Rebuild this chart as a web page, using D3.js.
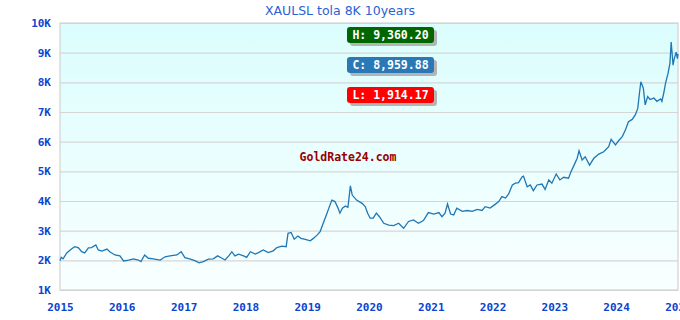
<!DOCTYPE html>
<html>
<head>
<meta charset="utf-8">
<script src="https://cdn.jsdelivr.net/npm/d3@7"></script>
<style>
	body { margin: 0; background: #fff; }
	svg { display: block; }
</style>
</head>
<body>
<div id="chart"></div>
<script>
// decimal years, with the matching tola price
var years = [
	2015.00, 2015.02, 2015.05, 2015.11, 2015.19, 2015.24, 2015.30, 2015.35, 2015.40, 2015.46,
	2015.51, 2015.58, 2015.62, 2015.68, 2015.76, 2015.81, 2015.89, 2015.97, 2016.03, 2016.11,
	2016.19, 2016.27, 2016.31, 2016.37, 2016.43, 2016.51, 2016.62, 2016.70, 2016.78, 2016.89,
	2016.96, 2017.02, 2017.11, 2017.19, 2017.25, 2017.32, 2017.40, 2017.48, 2017.55, 2017.62,
	2017.67, 2017.73, 2017.78, 2017.83, 2017.89, 2017.97, 2018.02, 2018.08, 2018.16, 2018.21,
	2018.29, 2018.37, 2018.45, 2018.51, 2018.59, 2018.66, 2018.69, 2018.74, 2018.79, 2018.85,
	2018.90, 2018.97, 2019.05, 2019.10, 2019.16, 2019.21, 2019.26, 2019.32, 2019.36, 2019.40,
	2019.45, 2019.50, 2019.53, 2019.57, 2019.62, 2019.66, 2019.70, 2019.73, 2019.80, 2019.89,
	2019.94, 2019.98, 2020.02, 2020.07, 2020.12, 2020.17, 2020.24, 2020.32, 2020.40, 2020.48,
	2020.56, 2020.64, 2020.72, 2020.80, 2020.88, 2020.96, 2021.05, 2021.13, 2021.18, 2021.23,
	2021.27, 2021.32, 2021.37, 2021.42, 2021.51, 2021.59, 2021.67, 2021.75, 2021.83, 2021.88,
	2021.96, 2022.03, 2022.10, 2022.15, 2022.21, 2022.26, 2022.32, 2022.37, 2022.42, 2022.48,
	2022.50, 2022.56, 2022.61, 2022.66, 2022.72, 2022.80, 2022.85, 2022.91, 2022.96, 2023.03,
	2023.09, 2023.15, 2023.23, 2023.27, 2023.32, 2023.37, 2023.40, 2023.45, 2023.50, 2023.57,
	2023.64, 2023.72, 2023.80, 2023.88, 2023.92, 2023.99, 2024.04, 2024.10, 2024.15, 2024.20,
	2024.26, 2024.31, 2024.35, 2024.38, 2024.40, 2024.44, 2024.47, 2024.51, 2024.55, 2024.61,
	2024.66, 2024.72, 2024.74, 2024.77, 2024.80, 2024.84, 2024.87, 2024.89, 2024.92, 2024.94,
	2024.97, 2024.99, 2025.00
];
var prices = [
	1990, 2100, 2050, 2250, 2390, 2460, 2420, 2290, 2250, 2420,
	2430, 2520, 2350, 2310, 2380, 2280, 2180, 2150, 1980, 2010,
	2050, 2010, 1960, 2180, 2070, 2050, 2010, 2120, 2150, 2180,
	2290, 2090, 2040, 1980, 1914, 1960, 2040, 2050, 2150, 2070,
	2010, 2150, 2290, 2150, 2210, 2150, 2100, 2290, 2210, 2260,
	2350, 2260, 2320, 2430, 2480, 2460, 2910, 2940, 2710, 2820,
	2740, 2710, 2660, 2740, 2850, 2970, 3250, 3580, 3810, 4030,
	3980, 3760, 3590, 3760, 3830, 3790, 4510, 4200, 4030, 3920,
	3810, 3590, 3420, 3420, 3590, 3470, 3250, 3190, 3170, 3250,
	3080, 3310, 3360, 3250, 3340, 3610, 3560, 3610, 3470, 3590,
	3900, 3560, 3530, 3760, 3650, 3680, 3650, 3720, 3680, 3810,
	3760, 3870, 3980, 4150, 4100, 4240, 4540, 4600, 4620, 4820,
	4840, 4480, 4540, 4350, 4540, 4570, 4390, 4710, 4600, 4910,
	4710, 4800, 4770, 4990, 5210, 5440, 5690, 5380, 5490, 5210,
	5440, 5580, 5660, 5830, 6080, 5890, 6030, 6170, 6390, 6670,
	6750, 6900, 7120, 7680, 8020, 7800, 7240, 7520, 7420, 7470,
	7360, 7440, 7360, 7640, 7980, 8310, 8650, 9360, 8580, 8800,
	9020, 8800, 8960
];
var yTicks = [1000, 2000, 3000, 4000, 5000, 6000, 7000, 8000, 9000, 10000];
var xTickYears = [2015, 2016, 2017, 2018, 2019, 2020, 2021, 2022, 2023, 2024, 2025];
var title = "XAULSL tola 8K 10years";
var badges = [
	{ label: "H: 9,360.20", fill: "#006600" },
	{ label: "C: 8,959.88", fill: "#2a78b6" },
	{ label: "L: 1,914.17", fill: "#ff0000" }
];
var watermark = "GoldRate24.com";

var W = 680, H = 320;
var margin = { top: 23, right: 2, bottom: 30, left: 60 };
var width = W - margin.left - margin.right;
var height = H - margin.top - margin.bottom;

function toDate(y) {
	var yr = Math.floor(y);
	var start = new Date(yr, 0, 1);
	var end = new Date(yr + 1, 0, 1);
	return new Date(+start + (y - yr) * (end - start));
}

var data = years.map(function(y, i) {
	return { date: toDate(y), value: prices[i] };
});

var svg = d3.select("#chart").append("svg")
	.attr("width", W)
	.attr("height", H);

var defs = svg.append("defs");
var grad = defs.append("linearGradient")
	.attr("id", "bg")
	.attr("x1", 0).attr("y1", 0)
	.attr("x2", 0).attr("y2", 1);
grad.append("stop").attr("offset", "0%").attr("stop-color", "#dbfdfd");
grad.append("stop").attr("offset", "100%").attr("stop-color", "#f9ffff");

svg.append("text")
	.attr("x", W / 2)
	.attr("y", 15)
	.attr("text-anchor", "middle")
	.style("font-family", "'DejaVu Sans', Verdana, sans-serif")
	.style("font-size", "12.5px")
	.style("fill", "#2b5fd6")
	.text(title);

var g = svg.append("g")
	.attr("transform", "translate(" + margin.left + "," + margin.top + ")");

var x = d3.scaleTime()
	.domain([new Date(2015, 0, 1), new Date(2025, 0, 1)])
	.range([0, width]);

var y = d3.scaleLinear()
	.domain([1000, 10000])
	.range([height, 0]);

g.append("rect")
	.attr("width", width)
	.attr("height", height)
	.attr("fill", "url(#bg)");

// grid
var grid = g.append("g")
	.attr("class", "grid")
	.call(d3.axisLeft(y).tickValues(yTicks).tickSize(-width).tickFormat(""));
grid.select(".domain").remove();
grid.selectAll("line")
	.attr("stroke", "#d6d6d6")
	.attr("stroke-width", 1.2);

// frame
g.append("rect")
	.attr("width", width)
	.attr("height", height)
	.attr("fill", "none")
	.attr("stroke", "#d2d2d2")
	.attr("stroke-width", 1.2);

var axisFont = "'DejaVu Sans Mono', 'Liberation Mono', monospace";

var yAxis = g.append("g")
	.call(d3.axisLeft(y).tickValues(yTicks).tickSize(0).tickPadding(9)
		.tickFormat(function(d) { return (d / 1000) + "K"; }));
yAxis.select(".domain").remove();
yAxis.selectAll("text")
	.style("font-family", axisFont)
	.style("font-weight", "bold")
	.style("font-size", "11px")
	.style("fill", "#0b44cf");

var xAxis = g.append("g")
	.attr("transform", "translate(0," + height + ")")
	.call(d3.axisBottom(x)
		.tickValues(xTickYears.map(function(yr) { return new Date(yr, 0, 1); }))
		.tickSize(0).tickPadding(13)
		.tickFormat(d3.timeFormat("%Y")));
xAxis.select(".domain").remove();
xAxis.selectAll("text")
	.style("font-family", axisFont)
	.style("font-weight", "bold")
	.style("font-size", "11px")
	.style("fill", "#0b44cf");

// watermark
g.append("text")
	.attr("x", 348 - margin.left)
	.attr("y", 161 - margin.top)
	.attr("text-anchor", "middle")
	.style("font-family", axisFont)
	.style("font-weight", "bold")
	.style("font-size", "11.5px")
	.style("fill", "#990000")
	.text(watermark);

// price line
var line = d3.line()
	.x(function(d) { return x(d.date); })
	.y(function(d) { return y(d.value); });

g.append("path")
	.datum(data)
	.attr("fill", "none")
	.attr("stroke", "#1f77b4")
	.attr("stroke-width", 1.3)
	.attr("stroke-linejoin", "miter")
	.attr("d", line);

// H / C / L badges
var badge = svg.selectAll(".badge")
	.data(badges)
	.enter().append("g")
	.attr("class", "badge")
	.attr("transform", function(d, i) {
		return "translate(347," + (27 + i * 30) + ")";
	});

badge.append("rect")
	.attr("x", 3).attr("y", 3)
	.attr("width", 87).attr("height", 16)
	.attr("rx", 3)
	.attr("fill", "#b4b4b4");

badge.append("rect")
	.attr("width", 87).attr("height", 16)
	.attr("rx", 3)
	.attr("fill", (d) => d.fill);

badge.append("text")
	.attr("x", 43.5)
	.attr("y", 12)
	.attr("text-anchor", "middle")
	.style("font-family", axisFont)
	.style("font-weight", "bold")
	.style("font-size", "11.5px")
	.style("fill", "#fff")
	.text((d) => d.label);
</script>
</body>
</html>
